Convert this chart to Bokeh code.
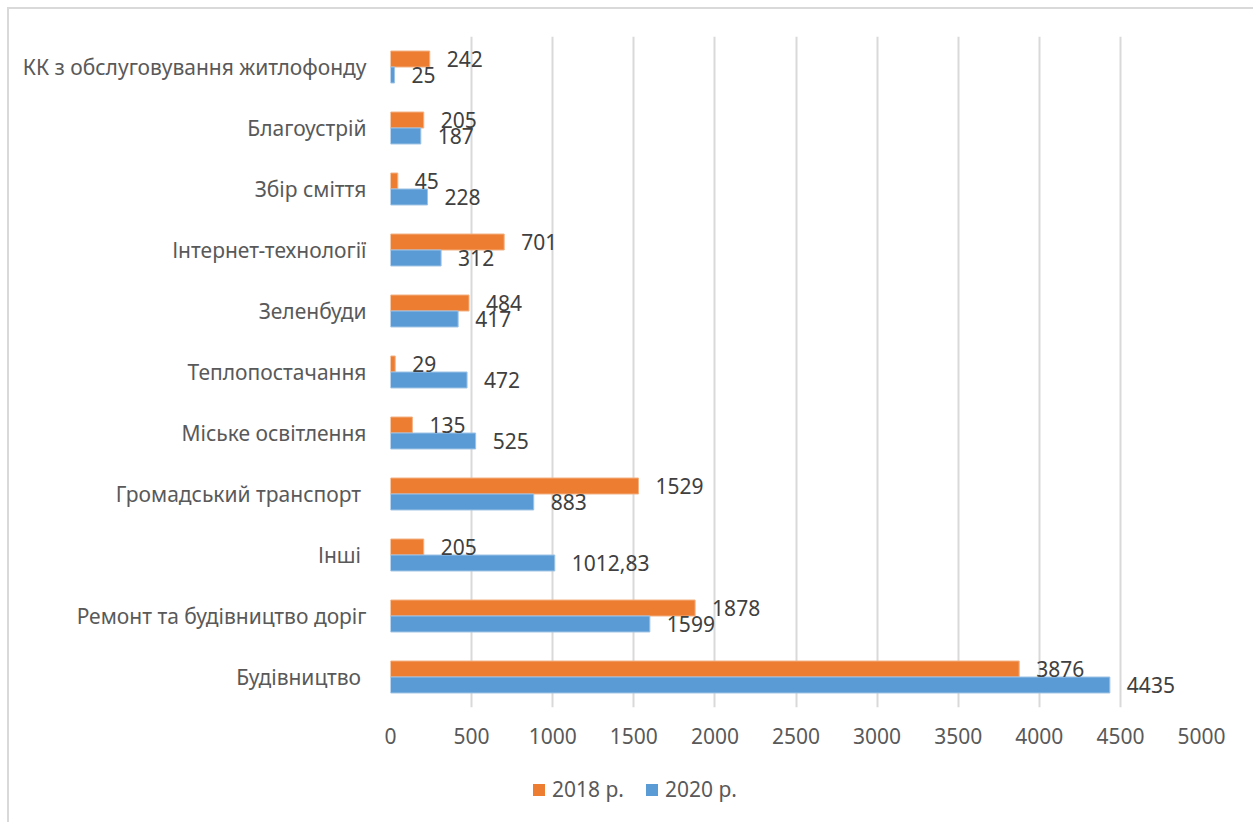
from bokeh.plotting import figure
from bokeh.layouts import column
from bokeh.models import ColumnDataSource, FactorRange, Legend, LegendItem, Range1d
from bokeh.transform import dodge
from bokeh.core.properties import value
from bokeh.embed import file_html
from bokeh.resources import INLINE

categories = [
    "Будівництво ",
    "Ремонт та будівництво доріг",
    "Інші ",
    "Громадський транспорт ",
    "Міське освітлення",
    "Теплопостачання",
    "Зеленбуди",
    "Інтернет-технології",
    "Збір сміття",
    "Благоустрій",
    "КК з обслуговування житлофонду",
]
values_2018 = [3876, 1878, 205, 1529, 135, 29, 484, 701, 45, 205, 242]
values_2020 = [4435, 1599, 1012.83, 883, 525, 472, 417, 312, 228, 187, 25]
x_ticks = [0, 500, 1000, 1500, 2000, 2500, 3000, 3500, 4000, 4500, 5000]
series_names = ["2018 р.", "2020 р."]


def fmt(v):
    s = ("%g" % v)
    return s.replace(".", ",")


src = ColumnDataSource(dict(
    cat=categories,
    v18=values_2018,
    v20=values_2020,
    l18=[fmt(v) for v in values_2018],
    l20=[fmt(v) for v in values_2020],
))

FONT = "Noto Sans"
ORANGE = "#ED7D31"
BLUE = "#5B9BD5"
ORANGE_EDGE = "#F4B183"
BLUE_EDGE = "#9DC3E6"

p = figure(
    width=1244, height=748,
    y_range=FactorRange(*categories),
    x_range=(0, 5000),
    output_backend="svg", toolbar_location=None,
    min_border_left=381, min_border_right=52,
    min_border_top=27, min_border_bottom=50,
)
p.outline_line_color = None
p.background_fill_color = "white"
p.border_fill_color = "white"

bh = 0.262
p.hbar(y=dodge("cat", bh / 2, range=p.y_range), right="v18", left=0, height=bh,
       source=src, fill_color=ORANGE, line_color=ORANGE_EDGE, line_width=1)
p.hbar(y=dodge("cat", -bh / 2, range=p.y_range), right="v20", left=0, height=bh,
       source=src, fill_color=BLUE, line_color=BLUE_EDGE, line_width=1)

p.text(x="v18", y=dodge("cat", bh / 2, range=p.y_range), text="l18", source=src,
       x_offset=17, text_baseline="middle", text_align="left",
       text_font=value(FONT), text_font_size="21px", text_color="#404040")
p.text(x="v20", y=dodge("cat", -bh / 2, range=p.y_range), text="l20", source=src,
       x_offset=17, text_baseline="middle", text_align="left",
       text_font=value(FONT), text_font_size="21px", text_color="#404040")

# axes
p.xaxis.ticker = x_ticks
p.xaxis.axis_line_color = None
p.xaxis.major_tick_line_color = None
p.xaxis.minor_tick_line_color = None
p.xaxis.major_label_text_font = FONT
p.xaxis.major_label_text_font_size = "21px"
p.xaxis.major_label_text_color = "#595959"
p.xaxis.major_label_standoff = 14

p.yaxis.axis_line_color = None
p.yaxis.major_tick_line_color = None
p.yaxis.minor_tick_line_color = None
p.yaxis.major_label_text_font = FONT
p.yaxis.major_label_text_font_size = "21px"
p.yaxis.major_label_text_color = "#595959"
p.yaxis.major_label_standoff = 18

p.ygrid.grid_line_color = None
p.xgrid.grid_line_color = "#D9D9D9"
p.xgrid.grid_line_width = 2

# legend strip below the chart (its frame is aligned with the chart's frame)
lg = figure(
    width=1244, height=65,
    x_range=Range1d(0, 1), y_range=Range1d(0, 1),
    output_backend="svg", toolbar_location=None,
    min_border_left=0, min_border_right=0, min_border_top=0, min_border_bottom=0,
)
lg.axis.visible = False
lg.grid.visible = False
lg.outline_line_color = None
lg.border_fill_color = "white"
lg.background_fill_color = "white"
nan = float("nan")
k18 = lg.hbar(y=[nan], right=[nan], left=[nan], height=0.1,
              fill_color=ORANGE, line_color=None)
k20 = lg.hbar(y=[nan], right=[nan], left=[nan], height=0.1,
              fill_color=BLUE, line_color=None)

legend = Legend(
    items=[LegendItem(label=series_names[0], renderers=[k18], index=0),
           LegendItem(label=series_names[1], renderers=[k20], index=0)],
    orientation="horizontal",
    location=(141, 19),
    glyph_width=15, glyph_height=15, label_standoff=6, spacing=20,
    padding=0, margin=0,
    border_line_color=None, background_fill_alpha=0,
    label_text_font=FONT, label_text_font_size="21px", label_text_color="#595959",
)
lg.add_layout(legend, "center")

layout = column(p, lg, spacing=0,
                styles={"margin-left": "7px", "margin-top": "7px",
                        "border-left": "2px solid #D9D9D9",
                        "border-top": "2px solid #D9D9D9"})

open("out.html", "w").write(file_html(layout, INLINE))
